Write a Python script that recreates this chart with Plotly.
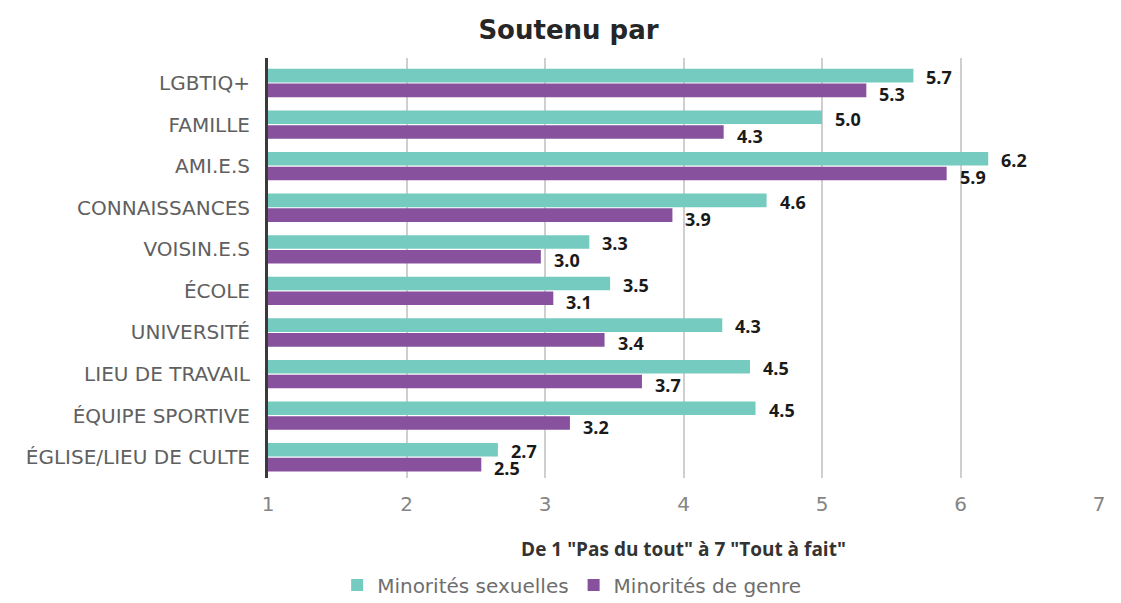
import plotly.graph_objects as go

categories = ["LGBTIQ+", "FAMILLE", "AMI.E.S", "CONNAISSANCES", "VOISIN.E.S", "ÉCOLE",
              "UNIVERSITÉ", "LIEU DE TRAVAIL", "ÉQUIPE SPORTIVE", "ÉGLISE/LIEU DE CULTE"]
sexuelles = [5.66, 5.0, 6.2, 4.6, 3.32, 3.47, 4.28, 4.48, 4.52, 2.66]
genre = [5.32, 4.29, 5.9, 3.92, 2.97, 3.06, 3.43, 3.7, 3.18, 2.54]
sexuelles_labels = ["5.7", "5.0", "6.2", "4.6", "3.3", "3.5", "4.3", "4.5", "4.5", "2.7"]
genre_labels = ["5.3", "4.3", "5.9", "3.9", "3.0", "3.1", "3.4", "3.7", "3.2", "2.5"]
x_ticks = [1, 2, 3, 4, 5, 6, 7]

teal = "#76cbc0"
purple = "#88519e"
label_font = "Open Sans"
text_font = "DejaVu Sans"

fig = go.Figure()
fig.add_trace(go.Bar(y=categories, x=sexuelles, orientation="h", name="Minorités sexuelles",
                     marker=dict(color=teal, line=dict(width=0))))
fig.add_trace(go.Bar(y=categories, x=genre, orientation="h", name="Minorités de genre",
                     marker=dict(color=purple, line=dict(width=0))))

annotations = []
for cat, v, t in zip(categories, sexuelles, sexuelles_labels):
    annotations.append(dict(x=v, y=cat, text="<b>%s</b>" % t, showarrow=False, xanchor="left",
                            xshift=11, yshift=6, font=dict(family=label_font, size=18, color="#1a1a1a")))
for cat, v, t in zip(categories, genre, genre_labels):
    annotations.append(dict(x=v, y=cat, text="<b>%s</b>" % t, showarrow=False, xanchor="left",
                            xshift=11, yshift=-11, font=dict(family=label_font, size=18, color="#1a1a1a")))

fig.update_layout(
    width=1121, height=603,
    margin=dict(l=260, r=30, t=50, b=133, autoexpand=False),
    paper_bgcolor="white", plot_bgcolor="white",
    barmode="group", bargap=0.29, bargroupgap=0.08,
    title=dict(text="<b>Soutenu par</b>", x=0.5, xanchor="center", y=0.963, yanchor="middle",
               font=dict(family=text_font, size=26, color="#262626")),
    xaxis=dict(range=[1, 7], tickvals=x_ticks, showgrid=True, gridcolor="#cfcfcf", gridwidth=2,
               zeroline=False, showline=False, ticks="", automargin=False, ticklabelstandoff=12,
               tickfont=dict(family=text_font, size=20, color="#858585"),
               title=dict(text='<b>De 1 "Pas du tout" à 7 "Tout à fait"</b>', standoff=27,
                          font=dict(family=label_font, size=19, color="#333333"))),
    yaxis=dict(categoryorder="array", categoryarray=categories, autorange="reversed",
               showline=True, linecolor="#3a3a3a", linewidth=3, ticks="", automargin=False,
               ticklabelstandoff=11,
               tickfont=dict(family=text_font, size=20, color="#606060"), showgrid=False),
    legend=dict(orientation="h", x=0.366, xanchor="center", y=-0.255, yanchor="middle",
                font=dict(family=text_font, size=20, color="#6e6e6e"), itemwidth=30,
                traceorder="normal"),
    annotations=annotations,
)

fig.write_html("out.html")
